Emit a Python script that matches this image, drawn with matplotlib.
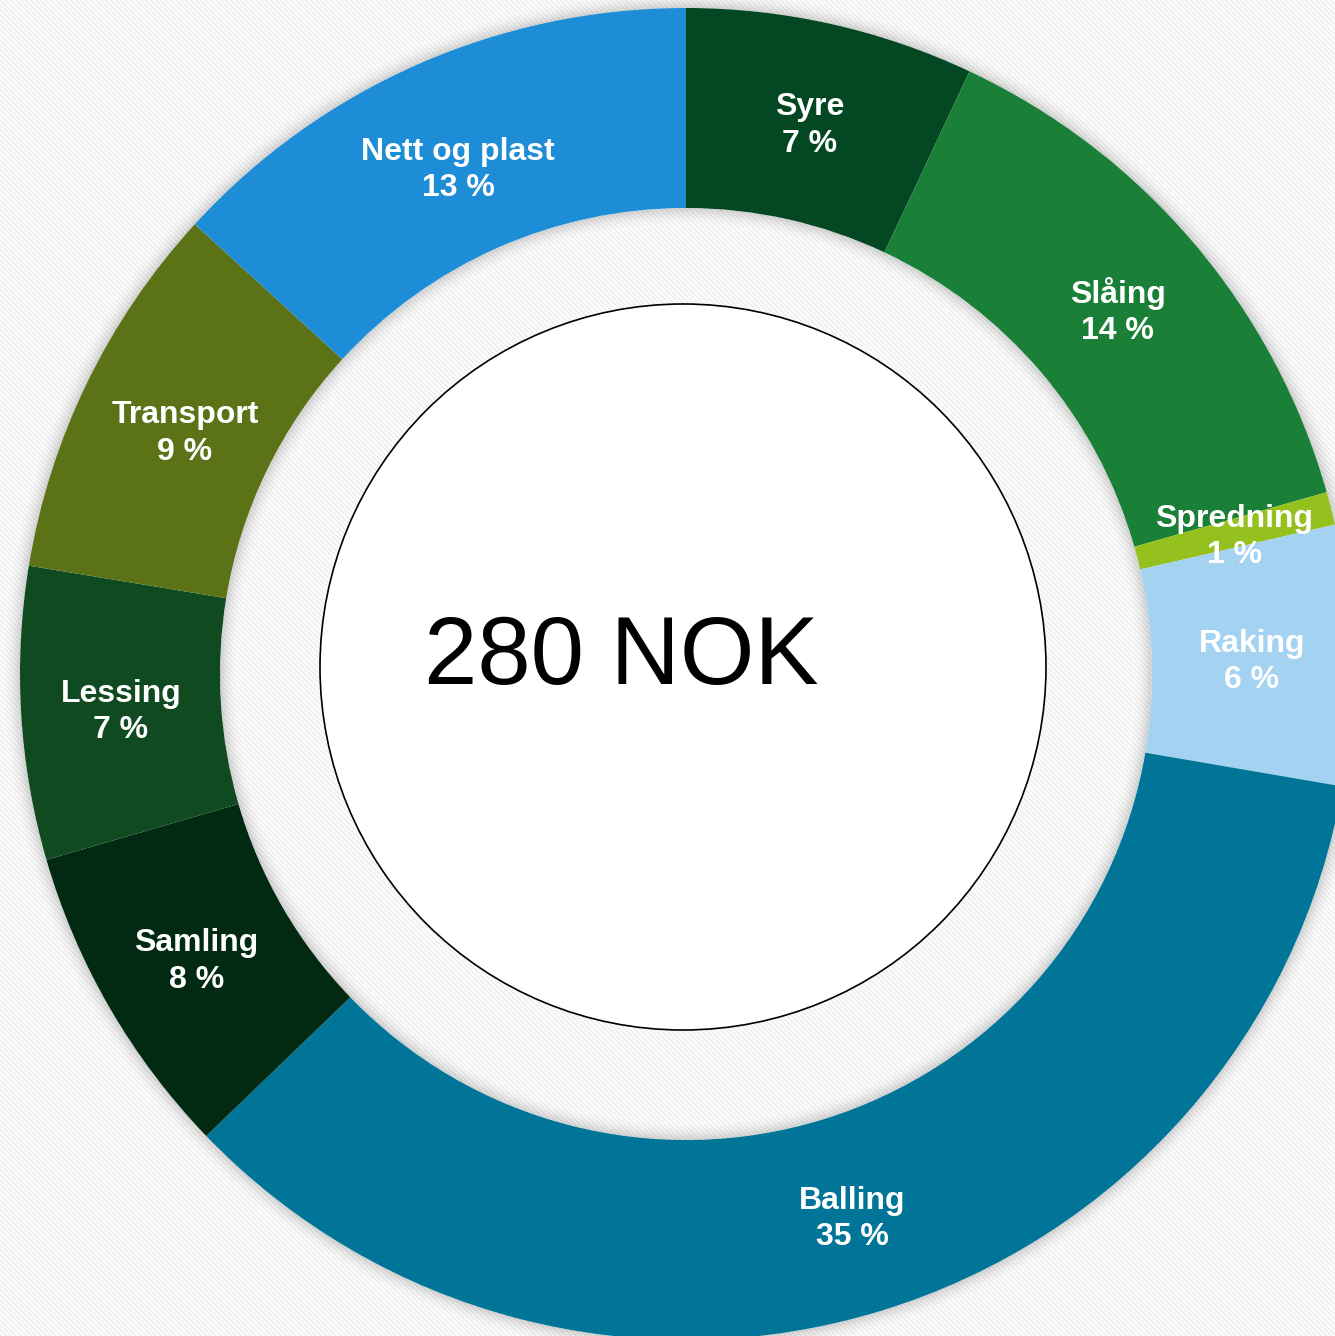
import numpy as np
from matplotlib import pyplot as plt
from matplotlib.patches import Circle, Wedge

# cost shares (percent), clockwise from 12 o'clock
categories = ['Syre', 'Slåing', 'Spredning', 'Raking', 'Balling',
              'Samling', 'Lessing', 'Transport', 'Nett og plast']
shares = [7.0, 13.6, 0.8, 6.3, 35.1, 7.7, 7.1, 9.2, 13.2]
shown_pct = [7, 14, 1, 6, 35, 8, 7, 9, 13]
colors = ['#034822', '#1a8037', '#95c11f', '#a3d3f1', '#007598',
          '#022a12', '#104a20', '#5b7216', '#1e8dd7']
center_text = '280 NOK'

W, H = 1335, 1336
fig = plt.figure(figsize=(W / 100, H / 100), dpi=100)
ax = fig.add_axes([0, 0, 1, 1])

# light diagonal stripe background
yy, xx = np.mgrid[0:H, 0:W]
stripes = np.where(((xx - yy) % 5) < 2, 0.93, 0.985)
ax.imshow(stripes, cmap='gray', vmin=0, vmax=1, extent=(0, W, 0, H),
          origin='upper', interpolation='nearest', zorder=0)

cx, cy = 686, H - 674
r_out, r_in = 666, 466

# soft shadow around the ring (outside and inside the hole)
for i in range(18):
    a = 0.13 * (1 - i / 18) ** 2
    ax.add_patch(Wedge((cx, cy), r_out + i + 1, 0, 360, width=1.2,
                       color='black', alpha=a, lw=0, zorder=1))
    ax.add_patch(Wedge((cx, cy), r_in - i, 0, 360, width=1.2,
                       color='black', alpha=a, lw=0, zorder=1))

labels = [f'{c}\n{p} %' for c, p in zip(categories, shown_pct)]
wedges, texts = ax.pie(shares, colors=colors, labels=labels, startangle=90,
                       counterclock=False, center=(cx, cy), radius=r_out,
                       labeldistance=(r_out + r_in) / 2 / r_out,
                       wedgeprops=dict(width=r_out - r_in, lw=0),
                       frame=True)
# small nudges so labels sit like in the original
nudge = {'Nett og plast': (0, -10), 'Transport': (8, -3)}
for t, c in zip(texts, categories):
    x, y = t.get_position()
    dx, dy = nudge.get(c, (0, 0))
    t.set_position((x + dx, y - 4 + dy))
    t.set_ha('center')
    t.set_va('center')
    t.set_color('white')
    t.set_fontsize(23)
    t.set_fontweight('bold')
    t.set_fontfamily('Liberation Sans')
    t.set_linespacing(1.28)
    t.set_zorder(5)
ax.set_xlim(0, W)
ax.set_ylim(0, H)
ax.set_aspect('equal')
ax.axis('off')

# white center disc
ax.add_patch(Circle((683, H - 667), 363, fc='white', ec='black', lw=1.2,
                    zorder=3))
ax.text(621, H - 684, center_text, ha='center', va='baseline',
        fontsize=69, family='Liberation Sans', color='black', zorder=4)

fig.savefig('out.png', dpi=100)
